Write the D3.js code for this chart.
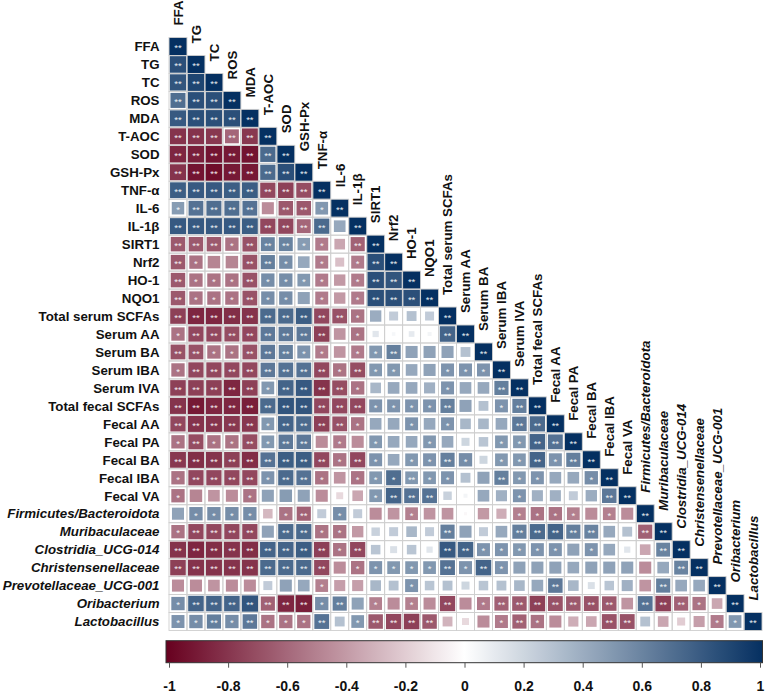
<!DOCTYPE html>
<html><head><meta charset="utf-8">
<script src="https://cdn.jsdelivr.net/npm/d3@7"></script>
<style>html,body{margin:0;padding:0;background:#fff;} svg{display:block;font-family:Arial,"Liberation Sans",sans-serif;}</style>
</head><body><svg id="chart" width="767" height="694"></svg>
<script>
const labels = ["FFA","TG","TC","ROS","MDA","T-AOC","SOD","GSH-Px","TNF-α","IL-6","IL-1β","SIRT1","Nrf2","HO-1","NQO1",
  "Total serum SCFAs","Serum AA","Serum BA","Serum IBA","Serum IVA","Total fecal SCFAs","Fecal AA","Fecal PA","Fecal BA","Fecal IBA","Fecal VA",
  "Firmicutes/Bacteroidota","Muribaculaceae","Clostridia_UCG-014","Christensenellaceae","Prevotellaceae_UCG-001","Oribacterium","Lactobacillus"];
const italicLabels = ["Firmicutes/Bacteroidota","Muribaculaceae","Clostridia_UCG-014","Christensenellaceae","Prevotellaceae_UCG-001","Oribacterium","Lactobacillus"];

// Lower-triangle correlation rows (r) and significance codes (0 none, 1 "*", 2 "**")
const rFFA = [1];                                   const sFFA = "2";
const rTG = [0.85,1];                               const sTG = "22";
const rTC = [0.82,0.9,1];                           const sTC = "222";
const rROS = [0.7,0.85,0.85,1];                     const sROS = "2222";
const rMDA = [0.8,0.85,0.85,0.85,1];                const sMDA = "22222";
const rTAOC = [-0.8,-0.8,-0.78,-0.6,-0.78,1];       const sTAOC = "222222";
const rSOD = [-0.85,-0.88,-0.92,-0.9,-0.92,0.72,1]; const sSOD = "2222222";
const rGSH = [-0.8,-0.92,-0.95,-0.9,-0.9,0.72,0.85,1]; const sGSH = "22222222";
const rTNF = [0.78,0.8,0.8,0.78,0.78,-0.72,-0.75,-0.7,1]; const sTNF = "222222222";
const rIL6 = [0.48,0.68,0.7,0.7,0.68,-0.45,-0.65,-0.65,0.5,1]; const sIL6 = "1222202212";
const rIL1b = [0.8,0.8,0.8,0.8,0.78,-0.72,-0.72,-0.6,0.72,0.42,1]; const sIL1b = "22222222202";
const rSIRT1 = [-0.65,-0.65,-0.65,-0.55,-0.68,0.6,0.6,0.48,-0.52,-0.35,-0.62,1]; const sSIRT1 = "222122211022";
const rNrf2 = [-0.65,-0.55,-0.48,-0.48,-0.68,0.62,0.55,0.42,-0.52,-0.25,-0.52,0.85,1]; const sNrf2 = "2100221010122";
const rHO1 = [-0.65,-0.55,-0.55,-0.55,-0.68,0.55,0.55,0.5,-0.52,-0.4,-0.52,0.85,0.82,1]; const sHO1 = "21112111101222";
const rNQO1 = [-0.65,-0.55,-0.55,-0.55,-0.68,0.55,0.55,0.45,-0.52,-0.4,-0.52,0.85,0.85,0.85,1]; const sNQO1 = "211121101012222";
const rTotSer = [-0.75,-0.85,-0.85,-0.82,-0.8,0.72,0.72,0.78,-0.72,-0.68,-0.55,0.4,0.25,0.3,0.25,1]; const sTotSer = "2222222222100002";
const rSerAA = [-0.55,-0.72,-0.72,-0.7,-0.72,0.65,0.65,0.65,-0.75,-0.42,-0.55,0.12,0.04,0.1,0.05,0.75,1]; const sSerAA = "12222222201000022";
const rSerBA = [-0.68,-0.68,-0.55,-0.55,-0.68,0.65,0.62,0.52,-0.52,-0.42,-0.52,0.5,0.62,0.45,0.45,0.45,0.3,1]; const sSerBA = "221122211011200002";
const rSerIBA = [-0.55,-0.72,-0.72,-0.72,-0.72,0.65,0.68,0.68,-0.72,-0.55,-0.7,0.5,0.5,0.42,0.45,0.52,0.52,0.52,1]; const sSerIBA = "1222222221211001112";
const rSerIVA = [-0.75,-0.75,-0.75,-0.85,-0.75,0.5,0.75,0.8,-0.8,-0.7,-0.55,0.35,0.42,0.42,0.38,0.52,0.42,0.42,0.62,1]; const sSerIVA = "22222122221000010022";
const rTotFec = [-0.8,-0.9,-0.85,-0.85,-0.88,0.72,0.82,0.82,-0.72,-0.72,-0.72,0.52,0.52,0.52,0.52,0.62,0.45,0.3,0.52,0.62,1]; const sTotFec = "222222222221111200122";
const rFecAA = [-0.72,-0.8,-0.8,-0.78,-0.78,0.5,0.75,0.72,-0.75,-0.68,-0.55,0.42,0.42,0.52,0.42,0.52,0.35,0.35,0.42,0.65,0.72,1]; const sFecAA = "2222212222100101000222";
const rFecPA = [-0.55,-0.7,-0.55,-0.55,-0.7,0.5,0.65,0.65,-0.45,-0.52,-0.45,0.5,0.42,0.42,0.5,0.42,0.2,0.28,0.5,0.5,0.75,0.68,1]; const sFecPA = "12112122010100100011222";
const rFecBA = [-0.78,-0.82,-0.8,-0.75,-0.82,0.68,0.78,0.78,-0.72,-0.55,-0.72,0.52,0.42,0.5,0.52,0.62,0.55,0.2,0.5,0.5,0.75,0.52,0.62,1]; const sFecBA = "222222222121011210112122";
const rFecIBA = [-0.55,-0.72,-0.72,-0.72,-0.72,0.52,0.72,0.68,-0.55,-0.42,-0.55,0.5,0.7,0.5,0.5,0.52,0.3,0.45,0.62,0.5,0.52,0.42,0.42,0.55,1]; const sFecIBA = "1222212210111211002110012";
const rFecVA = [-0.55,-0.48,-0.42,-0.45,-0.55,0.45,0.48,0.45,-0.45,-0.15,-0.35,0.5,0.75,0.68,0.68,0.22,0.05,0.42,0.38,0.52,0.38,0.38,0.25,0.4,0.65,1]; const sFecVA = "10001000000122200001000022";
const rFB = [0.45,0.55,0.55,0.55,0.55,-0.28,-0.55,-0.62,0.25,0.55,0.25,-0.45,-0.42,-0.5,-0.42,-0.42,-0.03,-0.4,-0.32,-0.5,-0.55,-0.55,-0.5,-0.45,-0.5,-0.45,1]; const sFB = "011110120100010000011110102";
const rMuri = [-0.55,-0.72,-0.72,-0.72,-0.72,0.45,0.72,0.72,-0.55,-0.55,-0.4,0.22,0.25,0.35,0.25,0.62,0.45,0.25,0.42,0.62,0.72,0.75,0.62,0.6,0.42,0.3,-0.62,1]; const sMuri = "1222202211000002000222220022";
const rClost = [-0.8,-0.85,-0.82,-0.8,-0.82,0.75,0.75,0.78,-0.75,-0.55,-0.72,0.28,0.15,0.28,0.12,0.8,0.75,0.52,0.52,0.5,0.52,0.52,0.45,0.52,0.42,0.12,-0.35,0.6,1]; const sClost = "22222222212000022111110100022";
const rChrist = [-0.75,-0.8,-0.8,-0.8,-0.8,0.72,0.72,0.72,-0.72,-0.45,-0.55,0.52,0.5,0.5,0.5,0.68,0.52,0.75,0.52,0.45,0.45,0.45,0.42,0.45,0.45,0.45,-0.45,0.42,0.6,1]; const sChrist = "222222222011111212100000000022";
const rPrevo = [-0.45,-0.45,-0.42,-0.45,-0.45,0.25,0.45,0.42,-0.5,-0.38,-0.38,0.35,0.3,0.52,0.28,0.3,0.2,0.28,0.3,0.35,0.42,0.65,0.35,0.15,0.28,0.38,-0.42,0.62,0.42,0.42,1]; const sPrevo = "0000000010000100000002000002002";
const rOrib = [0.55,0.75,0.75,0.75,0.82,-0.62,-0.85,-0.88,0.55,0.62,0.45,-0.5,-0.45,-0.5,-0.45,-0.72,-0.45,-0.52,-0.62,-0.65,-0.75,-0.68,-0.65,-0.68,-0.65,-0.42,0.68,-0.75,-0.62,-0.55,-0.35,1]; const sOrib = "12222222120101020122222220222102";
const rLacto = [0.52,0.55,0.62,0.55,0.65,-0.55,-0.55,-0.55,0.68,0.3,0.5,-0.65,-0.72,-0.75,-0.65,-0.3,-0.15,-0.45,-0.52,-0.62,-0.55,-0.45,-0.32,-0.35,-0.68,-0.68,0.3,-0.35,-0.2,-0.38,-0.52,0.5,1]; const sLacto = "112121112012222000121000220000112";

const rowValues = [rFFA,rTG,rTC,rROS,rMDA,rTAOC,rSOD,rGSH,rTNF,rIL6,rIL1b,rSIRT1,rNrf2,rHO1,rNQO1,rTotSer,rSerAA,rSerBA,rSerIBA,rSerIVA,rTotFec,rFecAA,rFecPA,rFecBA,rFecIBA,rFecVA,rFB,rMuri,rClost,rChrist,rPrevo,rOrib,rLacto];
const rowSig = [sFFA,sTG,sTC,sROS,sMDA,sTAOC,sSOD,sGSH,sTNF,sIL6,sIL1b,sSIRT1,sNrf2,sHO1,sNQO1,sTotSer,sSerAA,sSerBA,sSerIBA,sSerIVA,sTotFec,sFecAA,sFecPA,sFecBA,sFecIBA,sFecVA,sFB,sMuri,sClost,sChrist,sPrevo,sOrib,sLacto];

const legendTicks = [-1,-0.8,-0.6,-0.4,-0.2,0,0.2,0.4,0.6,0.8,1];
const legendTickLabels = ["-1","-0.8","-0.6","-0.4","-0.2","0","0.2","0.4","0.6","0.8","1"];

// ---- drawing ----
const svg = d3.select("#chart");
const n = labels.length;
const gx0 = 169, gy0 = 37.5, cell = 17.97;
const x = d3.scaleBand().domain(labels).range([gx0, gx0 + n*cell]).padding(0);
const y = d3.scaleBand().domain(labels).range([gy0, gy0 + n*cell]).padding(0);
const color = d3.scaleLinear().domain([-1,0,1]).range(["#67001F","#FFFFFF","#053061"]);
const side = d3.scaleSqrt().domain([0,1]).range([0, x.bandwidth()]);

const cells = [];
rowValues.forEach((row,i)=>row.forEach((v,j)=>cells.push({row:labels[i], col:labels[j], v, s:+rowSig[i][j]})));

const gCells = svg.append("g");
gCells.selectAll("rect.sq").data(cells).join("rect").attr("class","sq")
  .attr("x", d => x(d.col) + (x.bandwidth() - side(Math.abs(d.v)))/2)
  .attr("y", d => y(d.row) + (y.bandwidth() - side(Math.abs(d.v)))/2)
  .attr("width", d => side(Math.abs(d.v)))
  .attr("height", d => side(Math.abs(d.v)))
  .attr("fill", d => color(d.v));
gCells.selectAll("rect.grid").data(cells).join("rect").attr("class","grid")
  .attr("x", d => x(d.col)).attr("y", d => y(d.row))
  .attr("width", x.bandwidth()).attr("height", y.bandwidth())
  .attr("fill","none").attr("stroke","#cfcfcf").attr("stroke-width",0.9);
gCells.selectAll("text.star").data(cells.filter(d=>d.s>0)).join("text").attr("class","star")
  .attr("x", d => x(d.col) + x.bandwidth()/2)
  .attr("y", d => y(d.row) + y.bandwidth()/2 + 4.8)
  .attr("text-anchor","middle").attr("font-size",9.5).attr("fill","#ffffff").attr("fill-opacity",0.92)
  .text(d => d.s===2 ? "**" : "*");

const isItalic = l => italicLabels.includes(l);
// Row labels
svg.append("g").selectAll("text").data(labels).join("text")
  .attr("x", gx0 - 9.5).attr("y", d => y(d) + y.bandwidth()/2).attr("dy","0.36em")
  .attr("text-anchor","end").attr("font-size",13.3).attr("font-weight","bold")
  .attr("font-style", d => isItalic(d) ? "italic" : "normal").attr("fill","#111")
  .text(d => d);
// Column labels (rotated, above diagonal)
svg.append("g").selectAll("text").data(labels).join("text")
  .attr("transform", d => `translate(${x(d) + x.bandwidth()/2},${y(d) - 12}) rotate(-90)`)
  .attr("dy","0.36em").attr("text-anchor","start").attr("font-size",13.3).attr("font-weight","bold")
  .attr("font-style", d => isItalic(d) ? "italic" : "normal").attr("fill","#111")
  .text(d => d);

// Colour legend
const defs = svg.append("defs");
const grad = defs.append("linearGradient").attr("id","cbar").attr("x1","0%").attr("x2","100%");
d3.range(0,41).forEach(k => {
  const t = k/40;
  grad.append("stop").attr("offset", (t*100)+"%").attr("stop-color", color(-1 + 2*t));
});
const lx = d3.scaleLinear().domain([-1,1]).range([169.5, 760.5]);
const barTop = 640.7, barH = 22;
svg.append("rect").attr("x",166).attr("y",barTop).attr("width",596.5).attr("height",barH)
  .attr("fill","url(#cbar)").attr("stroke","#333").attr("stroke-width",1);
const gL = svg.append("g");
gL.selectAll("line").data(legendTicks).join("line")
  .attr("x1", d => lx(d)).attr("x2", d => lx(d))
  .attr("y1", barTop + barH).attr("y2", barTop + barH + 5)
  .attr("stroke","#555").attr("stroke-width",1);
gL.selectAll("text").data(legendTicks).join("text")
  .attr("x", d => lx(d)).attr("y", 691)
  .attr("text-anchor","middle").attr("font-size",14).attr("font-weight","bold").attr("fill","#111")
  .text((d,i) => legendTickLabels[i]);
</script></body></html>
